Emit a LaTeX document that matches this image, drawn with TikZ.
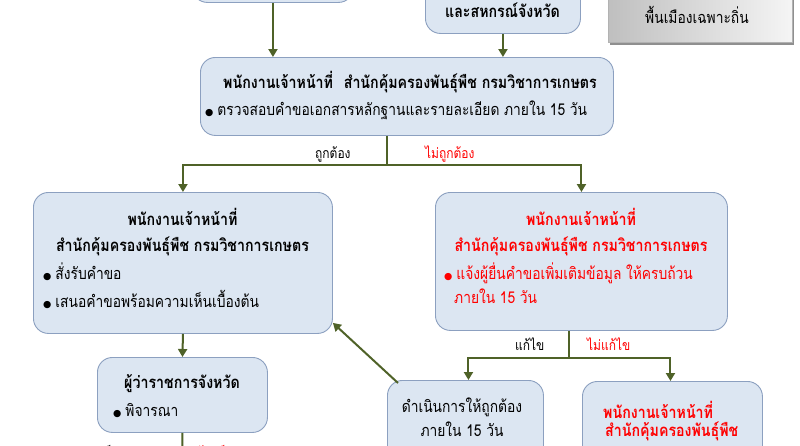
\documentclass[tikz,border=0pt]{standalone}
\usepackage{fontspec}
\usepackage{graphicx}
\setmainfont[Script=Thai]{Loma}
\newfontfamily\symf{DejaVu Sans}
\usetikzlibrary{arrows.meta,shadows,calc}
\definecolor{boxfill}{RGB}{220,230,242}
\definecolor{boxline}{RGB}{140,160,192}
\definecolor{arr}{RGB}{79,98,40}
\definecolor{redt}{RGB}{255,0,0}
\newcommand{\bul}{{\symf\fontsize{9.5}{9.5}\selectfont ●}\hspace{4pt}}
\newcommand{\T}[1]{\scalebox{1}[1.18]{#1}}
\begin{document}
\begin{tikzpicture}[x=1pt,y=-1pt,
  box/.style={draw=boxline, fill=boxfill, rounded corners=15pt, line width=0.9pt, inner sep=0pt, anchor=north west},
  greybox/.style={draw=black!30, line width=0.6pt, left color=black!25, right color=black!4, inner sep=0pt, anchor=north west,
     drop shadow={shadow xshift=2pt, shadow yshift=-3pt, fill=black!55, opacity=0.8}},
  conn/.style={draw=arr, line width=2pt, -{Triangle[length=8pt,width=9pt]}},
  plain/.style={draw=arr, line width=2pt},
  ttl/.style={inner sep=0pt, anchor=base, font=\fontsize{14.2}{16}\selectfont\bfseries},
  bod/.style={inner sep=0pt, anchor=base west, font=\fontsize{13.8}{16}\selectfont},
  bodc/.style={inner sep=0pt, anchor=base, font=\fontsize{13.8}{16}\selectfont},
  lbl/.style={inner sep=0pt, anchor=base west, font=\fontsize{12}{14}\selectfont},
]
\useasboundingbox (0,0) rectangle (800,445);
\clip (0,0) rectangle (800,445);
\fill[white] (0,0) rectangle (800,445);

% top boxes (partly visible)
\node[box, minimum width=161pt, minimum height=42pt] (b0) at (192,-40) {};
\node[box, minimum width=155pt, minimum height=63pt] (bm) at (425,-30) {};
\node[ttl] (tm) at (502.5,17) {\T{และสหกรณ์จังหวัด}};
\node[greybox, minimum width=184pt, minimum height=72pt] (g) at (608,-30) {};
\node[bodc] (tg) at (697,23) {\T{พื้นเมืองเฉพาะถิ่น}};

% main check box
\node[box, minimum width=413pt, minimum height=78pt] (b2) at (200,57) {};
\node[ttl] (t2) at (410,88) {\T{พนักงานเจ้าหน้าที่\hspace{6pt} สำนักคุ้มครองพันธุ์พืช กรมวิชาการเกษตร}};
\node[bod] (t2b) at (205,115) {\bul\T{ตรวจสอบคำขอเอกสารหลักฐานและรายละเอียด ภายใน 15 วัน}};

% left box
\node[box, minimum width=299pt, minimum height=141pt] (b3) at (33,192) {};
\node[ttl] (t3a) at (182.5,225) {\T{พนักงานเจ้าหน้าที่}};
\node[ttl] (t3b) at (182.5,251) {\T{สำนักคุ้มครองพันธุ์พืช กรมวิชาการเกษตร}};
\node[bod] (t3c) at (43,279) {\bul\T{สั่งรับคำขอ}};
\node[bod] (t3d) at (43,307) {\bul\T{เสนอคำขอพร้อมความเห็นเบื้องต้น}};

% governor box
\node[box, minimum width=170pt, minimum height=75pt] (b4) at (97,357) {};
\node[ttl] (t4a) at (182,388) {\T{ผู้ว่าราชการจังหวัด}};
\node[bod] (t4b) at (113,416) {\bul\T{พิจารณา}};

% right red box
\node[box, minimum width=292pt, minimum height=138pt] (b5) at (435,192) {};
\node[ttl, text=redt] (t5a) at (581,225) {\T{พนักงานเจ้าหน้าที่}};
\node[ttl, text=redt] (t5b) at (581,251) {\T{สำนักคุ้มครองพันธุ์พืช กรมวิชาการเกษตร}};
\node[bod, text=redt] (t5c) at (444,279) {\bul\T{แจ้งผู้ยื่นคำขอเพิ่มเติมข้อมูล ให้ครบถ้วน}};
\node[bod, text=redt] (t5d) at (454,303) {\T{ภายใน 15 วัน}};

% bottom boxes
\node[box, minimum width=156pt, minimum height=90pt] (b6) at (387,380) {};
\node[bodc] (t6a) at (462,412) {\T{ดำเนินการให้ถูกต้อง}};
\node[bodc] (t6b) at (462,436) {\T{ภายใน 15 วัน}};
\node[box, minimum width=180pt, minimum height=100pt] (b7) at (582,381) {};
\node[ttl, anchor=base west, text=redt] (t7a) at (603,418) {\T{พนักงานเจ้าหน้าที่}};
\node[ttl, anchor=base west, text=redt] (t7b) at (605,436) {\T{สำนักคุ้มครองพันธุ์พืช}};

% connectors
\draw[conn] (b0.south) -- (b0.south |- b2.north);
\draw[conn] (bm.south) -- (bm.south |- b2.north);
\coordinate (s1) at (387,165);
\draw[plain] (s1 |- b2.south) -- (s1);
\draw[conn] (s1) -| (b3.north);
\draw[conn] (s1) -| (b5.north);
\node[lbl] (l1) at (315,158) {\T{ถูกต้อง}};
\node[lbl, text=redt] (l2) at (425,158) {\T{ไม่ถูกต้อง}};

\draw[conn] (b3.south) -- (b4.north);
\coordinate (s3) at (182,470);
\draw[plain] (b4.south) -- (s3);
\node[lbl] (l5) at (100,458) {\T{เห็นชอบ}};
\node[lbl, text=redt] (l6) at (200,458) {\T{ไม่เห็นชอบ}};

\coordinate (s2) at (569,358);
\draw[plain] (s2 |- b5.south) -- (s2);
\draw[conn] (s2) -| ($(b6.north)+(3,0)$);
\draw[conn] (s2) -| ($(b7.north)+(-2,0)$);
\node[lbl] (l3) at (515,350) {\T{แก้ไข}};
\node[lbl, text=redt] (l4) at (587,350) {\T{ไม่แก้ไข}};

\draw[conn] ($(b6.north west)+(11,3)$) -- ($(b3.south east)+(0,-11)$);
\end{tikzpicture}
\end{document}
